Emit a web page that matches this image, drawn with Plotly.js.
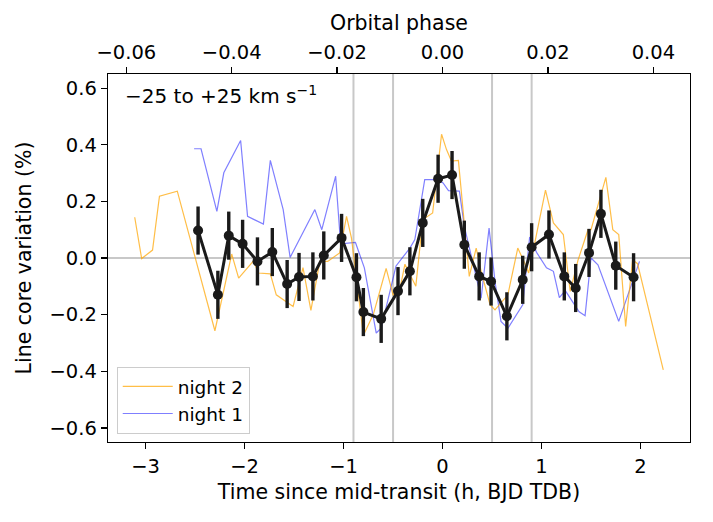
<!DOCTYPE html>
<html>
<head>
<meta charset="utf-8">
<script src="https://cdn.plot.ly/plotly-3.0.1.min.js"></script>
<style>html,body{margin:0;padding:0;background:#fff;}#chart{width:713px;height:522px;}</style>
</head>
<body>
<div id="chart"></div>
<script>
// Binned (black) series: time since mid-transit (h) and line core variation (%)
const timeBinned = [-2.47, -2.27, -2.16, -2.02, -1.87, -1.72, -1.57, -1.45, -1.31, -1.20, -1.02, -0.87, -0.80, -0.62, -0.45, -0.33, -0.20, -0.045, 0.096, 0.22, 0.37, 0.49, 0.65, 0.81, 0.90, 1.075, 1.23, 1.345, 1.48, 1.60, 1.75, 1.93];
const coreBinned = [0.097, -0.130, 0.079, 0.050, -0.012, 0.021, -0.092, -0.067, -0.065, 0.009, 0.071, -0.068, -0.191, -0.215, -0.117, -0.047, 0.124, 0.280, 0.293, 0.047, -0.065, -0.083, -0.206, -0.077, 0.038, 0.083, -0.065, -0.106, 0.018, 0.156, -0.027, -0.068];
const errBinned = [0.085, 0.085, 0.085, 0.085, 0.085, 0.085, 0.085, 0.085, 0.085, 0.085, 0.085, 0.085, 0.085, 0.085, 0.085, 0.085, 0.085, 0.085, 0.085, 0.085, 0.085, 0.085, 0.085, 0.085, 0.085, 0.085, 0.085, 0.085, 0.085, 0.085, 0.085, 0.085];

// Night 2 (orange)
const timeNight2 = [-3.11, -3.04, -2.93, -2.86, -2.68, -2.30, -2.13, -2.06, -1.91, -1.86, -1.74, -1.68, -1.51, -1.41, -1.33, -1.24, -1.16, -1.04, -0.97, -0.92, -0.80, -0.70, -0.57, -0.50, -0.43, -0.38, -0.27, -0.20, -0.10, -0.01, 0.04, 0.09, 0.16, 0.22, 0.27, 0.34, 0.39, 0.48, 0.53, 0.66, 0.76, 0.83, 0.87, 1.04, 1.12, 1.22, 1.29, 1.37, 1.47, 1.50, 1.65, 1.72, 1.78, 1.85, 1.92, 1.97, 2.23];
const coreNight2 = [0.144, -0.002, 0.028, 0.218, 0.236, -0.257, 0.014, -0.071, -0.010, -0.053, -0.056, -0.130, -0.171, -0.034, -0.185, -0.012, -0.012, 0.018, 0.147, 0.070, -0.273, -0.200, -0.037, -0.130, -0.108, -0.022, -0.100, 0.136, 0.159, 0.437, 0.383, 0.342, 0.345, 0.118, -0.065, 0.035, -0.047, -0.165, -0.183, -0.130, 0.035, -0.018, -0.053, 0.240, 0.124, 0.083, -0.118, -0.006, 0.100, 0.100, 0.285, 0.100, 0.083, -0.242, -0.006, -0.020, -0.395];

// Night 1 (blue)
const timeNight1 = [-2.51, -2.44, -2.28, -2.21, -2.04, -1.97, -1.81, -1.74, -1.61, -1.54, -1.29, -1.22, -1.08, -1.03, -0.88, -0.79, -0.67, -0.62, -0.47, -0.33, -0.28, -0.18, -0.05, 0.005, 0.06, 0.17, 0.22, 0.33, 0.39, 0.47, 0.53, 0.59, 0.66, 0.81, 0.88, 0.95, 1.05, 1.12, 1.18, 1.24, 1.38, 1.44, 1.50, 1.57, 1.78, 1.99];
const coreNight1 = [0.386, 0.386, 0.165, 0.301, 0.415, 0.147, 0.120, 0.345, 0.171, 0.002, 0.171, 0.100, 0.289, 0.050, 0.055, -0.035, -0.265, -0.248, -0.028, 0.035, 0.065, 0.277, 0.277, 0.265, 0.238, 0.236, 0.112, -0.047, -0.142, 0.106, -0.083, -0.224, -0.248, -0.165, 0.074, 0.020, -0.035, -0.047, -0.140, -0.115, -0.190, -0.204, 0.000, -0.024, -0.224, -0.012];

// Reference times (contact points) and orbital period for the top axis
const contactTimes = [-0.9, -0.5, 0.5, 0.9];
const periodHours = 53.25;
const timeRange = [-3.38, 2.5];
const valueRange = [-0.65, 0.65];

const FONT = 'DejaVu Sans, sans-serif';
const FS = 19.5;
const FS_TITLE = 20.5;
const BLACK = '#1a1a1a';

const traces = [
  {
    x: timeNight1, y: coreNight1, type: 'scatter', mode: 'lines', name: 'night 1',
    line: {color: 'rgba(0,0,255,0.5)', width: 1.2}, legendrank: 2, hoverinfo: 'skip'
  },
  {
    x: timeNight2, y: coreNight2, type: 'scatter', mode: 'lines', name: 'night 2',
    line: {color: 'rgba(255,165,0,0.72)', width: 1.2}, legendrank: 1, hoverinfo: 'skip'
  },
  {
    x: timeBinned, y: coreBinned, type: 'scatter', mode: 'lines+markers', showlegend: false,
    line: {color: BLACK, width: 3},
    marker: {color: BLACK, size: 10},
    error_y: {type: 'data', array: errBinned, visible: true, color: BLACK, thickness: 3.4, width: 0},
    hoverinfo: 'skip'
  },
  {
    x: timeRange.map(t => t / periodHours), y: [0, 0], xaxis: 'x2', type: 'scatter', mode: 'markers',
    marker: {opacity: 0}, showlegend: false, hoverinfo: 'skip'
  }
];

const shapes = contactTimes.map(t => ({
  type: 'line', xref: 'x', yref: 'paper', x0: t, x1: t, y0: 0, y1: 1,
  line: {color: '#c8c8c8', width: 2}, layer: 'below'
}));

const axisCommon = {
  showgrid: false, showline: true, linecolor: '#000', linewidth: 1.3,
  ticks: 'outside', ticklen: 6, tickwidth: 1.3, tickcolor: '#000',
  tickfont: {family: FONT, size: FS, color: '#000'}
};

const layout = {
  width: 713, height: 522,
  margin: {l: 108, r: 23, t: 74, b: 80},
  paper_bgcolor: '#fff', plot_bgcolor: '#fff',
  font: {family: FONT, size: FS, color: '#000'},
  showlegend: true,
  legend: {
    x: 0.015, y: 0.022, xanchor: 'left', yanchor: 'bottom',
    bgcolor: 'rgba(255,255,255,0.8)', bordercolor: '#cccccc', borderwidth: 1,
    font: {family: FONT, size: 18.5, color: '#000'}, tracegroupgap: 0, itemwidth: 50
  },
  xaxis: Object.assign({}, axisCommon, {
    range: timeRange, dtick: 1, tick0: 0, mirror: true, zeroline: false,
    title: {text: 'Time since mid-transit (h, BJD TDB)', font: {family: FONT, size: FS_TITLE, color: '#000'}, standoff: 8}
  }),
  xaxis2: Object.assign({}, axisCommon, {
    overlaying: 'x', side: 'top', anchor: 'y',
    range: timeRange.map(t => t / periodHours), dtick: 0.02, tick0: 0, tickformat: '.2f', zeroline: false,
    title: {text: 'Orbital phase', font: {family: FONT, size: FS_TITLE, color: '#000'}, standoff: 4}
  }),
  yaxis: Object.assign({}, axisCommon, {
    range: valueRange, dtick: 0.2, tick0: 0, tickformat: '.1f', mirror: true,
    zeroline: true, zerolinecolor: '#c8c8c8', zerolinewidth: 2,
    title: {text: 'Line core variation (%)', font: {family: FONT, size: FS_TITLE, color: '#000'}, standoff: 12}
  }),
  shapes: shapes,
  annotations: [{
    xref: 'paper', yref: 'paper', x: 0.025, y: 0.985, xanchor: 'left', yanchor: 'top',
    text: '−25 to +25 km s<sup>−1</sup>', showarrow: false,
    font: {family: FONT, size: 20, color: '#000'}
  }]
};

Plotly.newPlot('chart', traces, layout, {staticPlot: true, displayModeBar: false});
</script>
</body>
</html>
